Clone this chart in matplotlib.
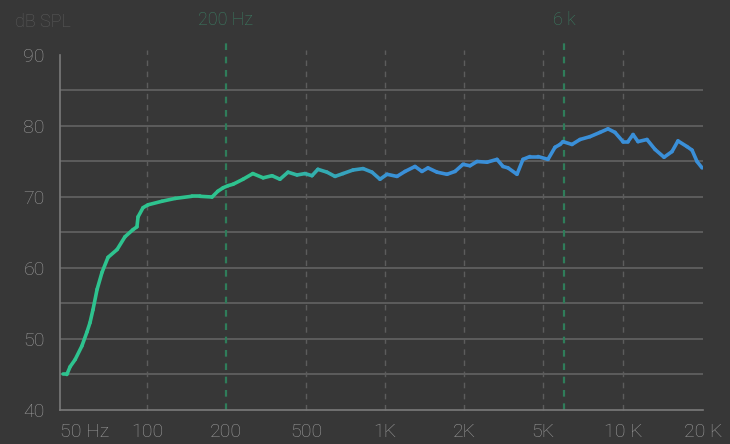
import numpy as np
import matplotlib
matplotlib.use('Agg')
import matplotlib.pyplot as plt
from matplotlib.collections import LineCollection
from matplotlib.colors import to_rgb

# frequency response (Hz, dB SPL)
freq = [51.2, 52.8, 54.2, 56.4, 59.5, 62, 63.5, 65, 67.2, 69.9, 73.3, 78.8, 83.9, 89.4,
        92.3, 93.1, 96.9, 100.9, 114, 128, 148, 159, 177, 186, 195, 205, 217, 243, 272,
        306, 339, 371, 407, 451, 494, 527, 555, 601, 645, 692, 755, 825, 892, 957, 1018,
        1111, 1192, 1301, 1383, 1458, 1578, 1723, 1848, 1982, 2144, 2326, 2612, 2933,
        3144, 3332, 3698, 3964, 4300, 4718, 5220, 5548, 5795, 5946, 6428, 6890, 7513,
        8193, 8780, 9330, 10000, 10440, 10910, 11390, 12310, 13200, 14270, 15290, 16100,
        17410, 18190, 18990, 19840]
spl = [45.0, 45.0, 46.1, 47.1, 49.0, 51.0, 52.3, 54.1, 57.0, 59.4, 61.5, 62.6, 64.4, 65.4,
       65.8, 67.2, 68.5, 68.9, 69.4, 69.8, 70.1, 70.1, 70.0, 70.8, 71.3, 71.6, 71.8, 72.5, 73.3,
       72.7, 73.0, 72.5, 73.5, 73.1, 73.3, 73.0, 73.9, 73.5, 72.9, 73.3, 73.8, 74.0, 73.5, 72.5, 73.2,
       72.9, 73.6, 74.3, 73.6, 74.1, 73.5, 73.2, 73.6, 74.6, 74.4, 75.0, 74.9, 75.3,
       74.3, 74.1, 73.2, 75.3, 75.7, 75.7, 75.3, 77.0, 77.4, 77.8, 77.4, 78.1, 78.5,
       79.1, 79.6, 79.1, 77.8, 77.8, 78.8, 77.8, 78.1, 76.7, 75.6, 76.4, 77.9,
       77.1, 76.6, 75.0, 74.1]

x_ticks = [50, 100, 200, 500, 1000, 2000, 5000, 10000, 20000]
x_labels = ['50 Hz', '100', '200', '500', '1K', '2K', '5K', '10 K', '20 K']
y_ticks = [40, 50, 60, 70, 80, 90]
y_grid = [45, 50, 55, 60, 65, 70, 75, 80, 85]
v_grid = [100, 500, 1000, 2000, 5000, 10000]
markers = [200, 6000]
marker_labels = ['200 Hz', '6 k']

# tick spacing on the original chart is (almost) uniform, not true log
tick_pos = np.array([0, 87, 166, 246, 325, 404, 483, 563, 643], dtype=float)
log_ticks = np.log10(x_ticks)


def fwd(f):
    return np.interp(np.log10(np.clip(f, 1e-3, None)), log_ticks, tick_pos)


def inv(u):
    return 10 ** np.interp(u, tick_pos, log_ticks)


bg = '#373737'
fig = plt.figure(figsize=(7.3, 4.44), dpi=100, facecolor=bg)
ax = fig.add_axes([60 / 730, 1 - 410 / 444, 643 / 730, 355 / 444])
ax.set_facecolor(bg)
ax.set_xscale('function', functions=(fwd, inv))
ax.set_xlim(50, 20000)
ax.set_ylim(40, 90)

for y in y_grid:
    ax.axhline(y, color='#666666', lw=1.1, zorder=1)
for f in v_grid:
    ax.plot([f, f], [40, 90.7], color='#5c5c5c', lw=1, ls=(0, (4, 4)), zorder=1, clip_on=False)
for f, lab in zip(markers, marker_labels):
    ax.plot([f, f], [40, 92.1], color='#2f7d5a', lw=1.6, ls=(0, (3, 3)), zorder=2, clip_on=False)
    ax.text(f, 94.9, lab, color='#3b7e63', fontsize=13, ha='center', va='center',
            family='Roboto', fontweight='light')

# gradient line: green in the bass, blue in the treble
fx = np.array(freq)
fy = np.array(spl)
pts = np.column_stack([fx, fy]).reshape(-1, 1, 2)
segs = np.concatenate([pts[:-1], pts[1:]], axis=1)
mid = fwd(np.sqrt(fx[:-1] * fx[1:]))
t = np.clip((mid - 200) / 140, 0, 1)
c0 = np.array(to_rgb('#2ec38f'))
c1 = np.array(to_rgb('#3a8fd8'))
cols = c0[None, :] * (1 - t[:, None]) + c1[None, :] * t[:, None]
lc = LineCollection(segs, colors=cols, linewidths=2.6, capstyle='round', joinstyle='round', zorder=3)
ax.add_collection(lc)

for s in ['top', 'right']:
    ax.spines[s].set_visible(False)
for s in ['left', 'bottom']:
    ax.spines[s].set_color('#7a7a7a')
    ax.spines[s].set_linewidth(1.2)

ax.set_xticks(x_ticks)
ax.set_xticklabels(x_labels)
ax.set_yticks(y_ticks)
ax.minorticks_off()
ax.tick_params(length=0, colors='#9c9c9c', labelsize=14)
ax.tick_params(axis='x', pad=9)
ax.tick_params(axis='y', pad=11)
for lab in ax.get_xticklabels() + ax.get_yticklabels():
    lab.set_family('Roboto')
    lab.set_fontweight('light')
ax.get_xticklabels()[0].set_horizontalalignment('left')

fig.text(15 / 730, 1 - 22 / 444, 'dB SPL', color='#5c5c5c', fontsize=13, ha='left', va='center',
         family='Roboto', fontweight='light')

fig.savefig('out.png', dpi=100, facecolor=bg)
